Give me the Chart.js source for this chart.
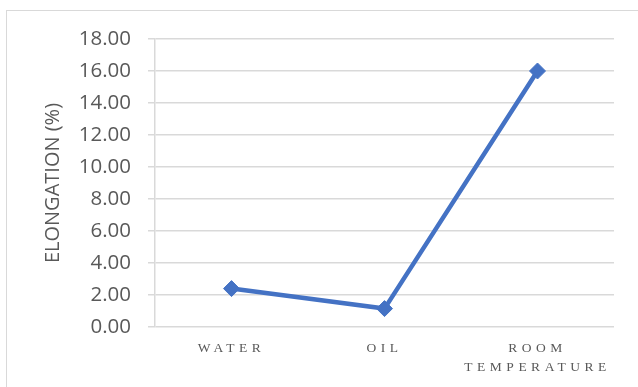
<!DOCTYPE html>
<html>
<head>
<meta charset="utf-8">
<script src="https://cdn.jsdelivr.net/npm/chart.js@4"></script>
<style>
    html, body { margin: 0; padding: 0; background: #fff; }
    body { width: 638px; height: 387px; position: relative; overflow: hidden; }
    #frame { position: absolute; left: 6px; top: 10px; width: 700px; height: 500px; border: 1.5px solid #d9d9d9; box-sizing: border-box; }
    #wrap { position: absolute; left: 0; top: 0; width: 638px; height: 387px; }
</style>
</head>
<body>
<div id="frame"></div>
<div id="wrap"><canvas id="elongChart"></canvas></div>
<script>
const categories = [['WATER'], ['OIL'], ['ROOM', 'TEMPERATURE']];
const elongation = [2.4, 1.15, 16.0];
const yTicks = [0, 2, 4, 6, 8, 10, 12, 14, 16, 18];

// canvas letter spacing for the serif category labels
const spacedLabels = {
    id: 'spacedLabels',
    beforeDraw(chart) {
        const xs = chart.scales.x;
        if (xs._spacedPatched) return;
        const orig = xs.drawLabels.bind(xs);
        xs.drawLabels = function (area) {
            const ctx = this.ctx;
            ctx.letterSpacing = '4.5px';
            orig(area);
            ctx.letterSpacing = '0px';
        };
        xs._spacedPatched = true;
    }
};

const ctx = document.getElementById('elongChart').getContext('2d');

new Chart(ctx, {
    type: 'line',
    data: {
        labels: categories,
        datasets: [{
            label: 'Elongation',
            data: elongation,
            borderColor: '#4472c4',
            backgroundColor: '#4472c4',
            borderWidth: 4.5,
            pointStyle: 'rectRot',
            pointRadius: 8,
            pointHoverRadius: 8,
            pointBorderWidth: 1,
            tension: 0,
            fill: false
        }]
    },
    options: {
        responsive: true,
        maintainAspectRatio: false,
        animation: false,
        layout: { padding: { left: 10, right: 24, top: 39, bottom: 0 } },
        plugins: {
            legend: { display: false },
            tooltip: { enabled: false }
        },
        scales: {
            x: {
                offset: true,
                grid: { display: false },
                border: { display: false },
                afterFit: (s) => { s.height = 60; },
                ticks: {
                    color: '#595959',
                    font: { family: "'Liberation Serif', serif", size: 13.5, lineHeight: 1.4 },
                    padding: 4,
                    maxRotation: 0,
                    autoSkip: false
                }
            },
            y: {
                min: 0,
                max: 18,
                afterFit: (s) => { s.width = 145; },
                afterBuildTicks: (s) => { s.ticks = yTicks.map(v => ({ value: v })); },
                border: { display: true, color: '#d9d9d9', width: 1.5 },
                grid: { color: '#d9d9d9', lineWidth: 1.5, tickLength: 7, drawTicks: true },
                ticks: {
                    color: '#595959',
                    font: { family: "'Open Sans', sans-serif", size: 20.5 },
                    padding: 17,
                    callback: (v) => Number(v).toFixed(2)
                },
                title: {
                    display: true,
                    text: 'ELONGATION (%)',
                    color: '#595959',
                    font: { family: "'Open Sans', sans-serif", size: 20 },
                    padding: { top: 31, bottom: 0 }
                }
            }
        }
    },
    plugins: [spacedLabels]
});
</script>
</body>
</html>
